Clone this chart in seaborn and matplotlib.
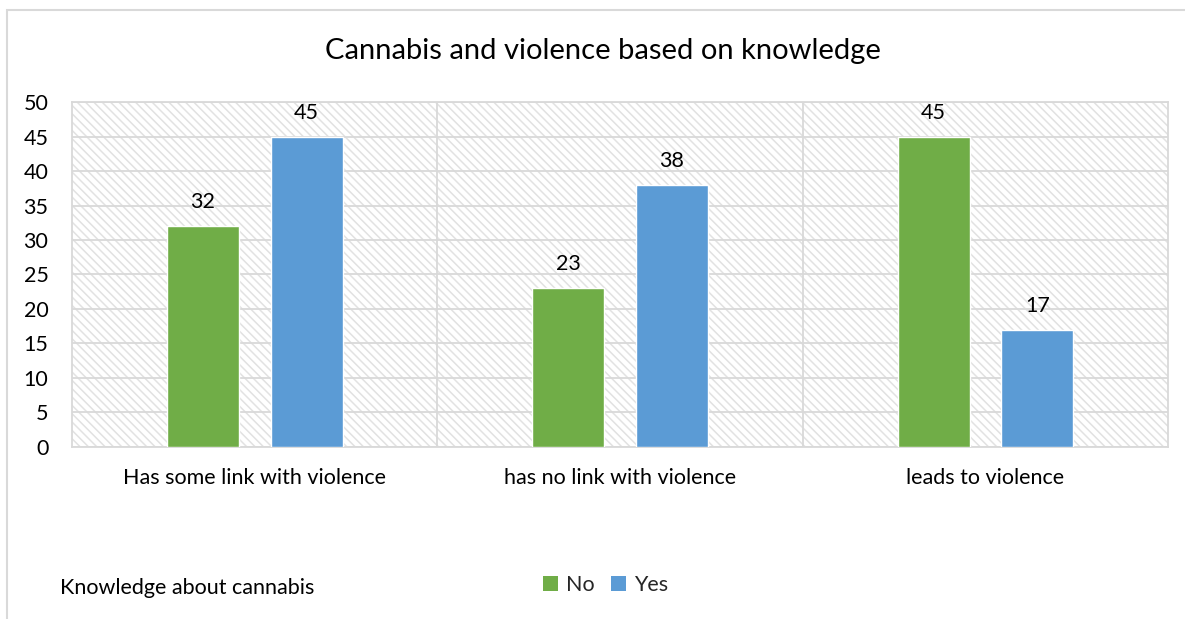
import matplotlib
matplotlib.use("Agg")
import matplotlib.pyplot as plt
from matplotlib.patches import Rectangle, Patch
import pandas as pd
import seaborn as sns

# Survey results
categories = ["Has some link with violence", "has no link with violence", "leads to violence"]
no_values = [32, 23, 45]
yes_values = [45, 38, 17]
series_names = ["No", "Yes"]
y_ticks = [0, 5, 10, 15, 20, 25, 30, 35, 40, 45, 50]

df = pd.DataFrame({
    "category": categories * 2,
    "value": no_values + yes_values,
    "knowledge": [series_names[0]] * len(categories) + [series_names[1]] * len(categories),
})

sns.set_theme(style="white")
plt.rcParams["font.family"] = ["Lato", "DejaVu Sans"]
plt.rcParams["hatch.linewidth"] = 1.1

GREEN = "#70AD47"
BLUE = "#5B9BD5"
GRID = "#D9D9D9"
FS = 15.5

fig = plt.figure(figsize=(11.85, 6.19), dpi=100)
ax = fig.add_axes([0.0608, 0.2779, 0.9249, 0.5573])

# hatched plot background
ax.patch.set_facecolor("white")
ax.patch.set_edgecolor("#E2E2E2")
ax.patch.set_hatch("\\\\\\\\")
ax.patch.set_linewidth(0)

sns.barplot(data=df, x="category", y="value", hue="knowledge",
            palette=[GREEN, BLUE], width=0.568, gap=0.306,
            saturation=1, ax=ax, legend=False, zorder=3)

ax.set_ylim(0, 50)
ax.set_xlim(-0.5, 2.5)
ax.set_yticks(y_ticks)
ax.yaxis.grid(True, color=GRID, linewidth=1.3, zorder=1)
ax.set_axisbelow(True)
for xb in (0.5, 1.5):
    ax.axvline(xb, color=GRID, linewidth=1.3, zorder=1)
for s in ax.spines.values():
    s.set_color(GRID)
    s.set_linewidth(1.3)

ax.tick_params(axis="both", length=0, labelsize=FS, colors="black")
ax.tick_params(axis="y", pad=17)
ax.tick_params(axis="x", pad=15)
ax.set_xlabel("")
ax.set_ylabel("")

for cont in ax.containers:
    ax.bar_label(cont, fmt="%d", padding=10, fontsize=FS, color="black")

fig.text(0.509, 0.917, "Cannabis and violence based on knowledge",
         ha="center", va="center", fontsize=21, color="black")

fig.text(0.0506, 0.050, "Knowledge about cannabis", ha="left", va="center",
         fontsize=FS, color="black")

handles = [Patch(facecolor=GREEN, edgecolor="none"), Patch(facecolor=BLUE, edgecolor="none")]
fig.legend(handles, series_names, loc="center", bbox_to_anchor=(0.511, 0.055),
           ncol=2, frameon=False, fontsize=FS, handlelength=0.7, handleheight=0.7,
           handletextpad=0.35, columnspacing=0.8)

# outer chart frame
fig.add_artist(Rectangle((7 / 1185, -0.05), 1.2, (1 - 10 / 619) + 0.05,
                         transform=fig.transFigure, fill=False,
                         edgecolor="#D9D9D9", linewidth=1.5))

fig.savefig("out.png", dpi=100)
